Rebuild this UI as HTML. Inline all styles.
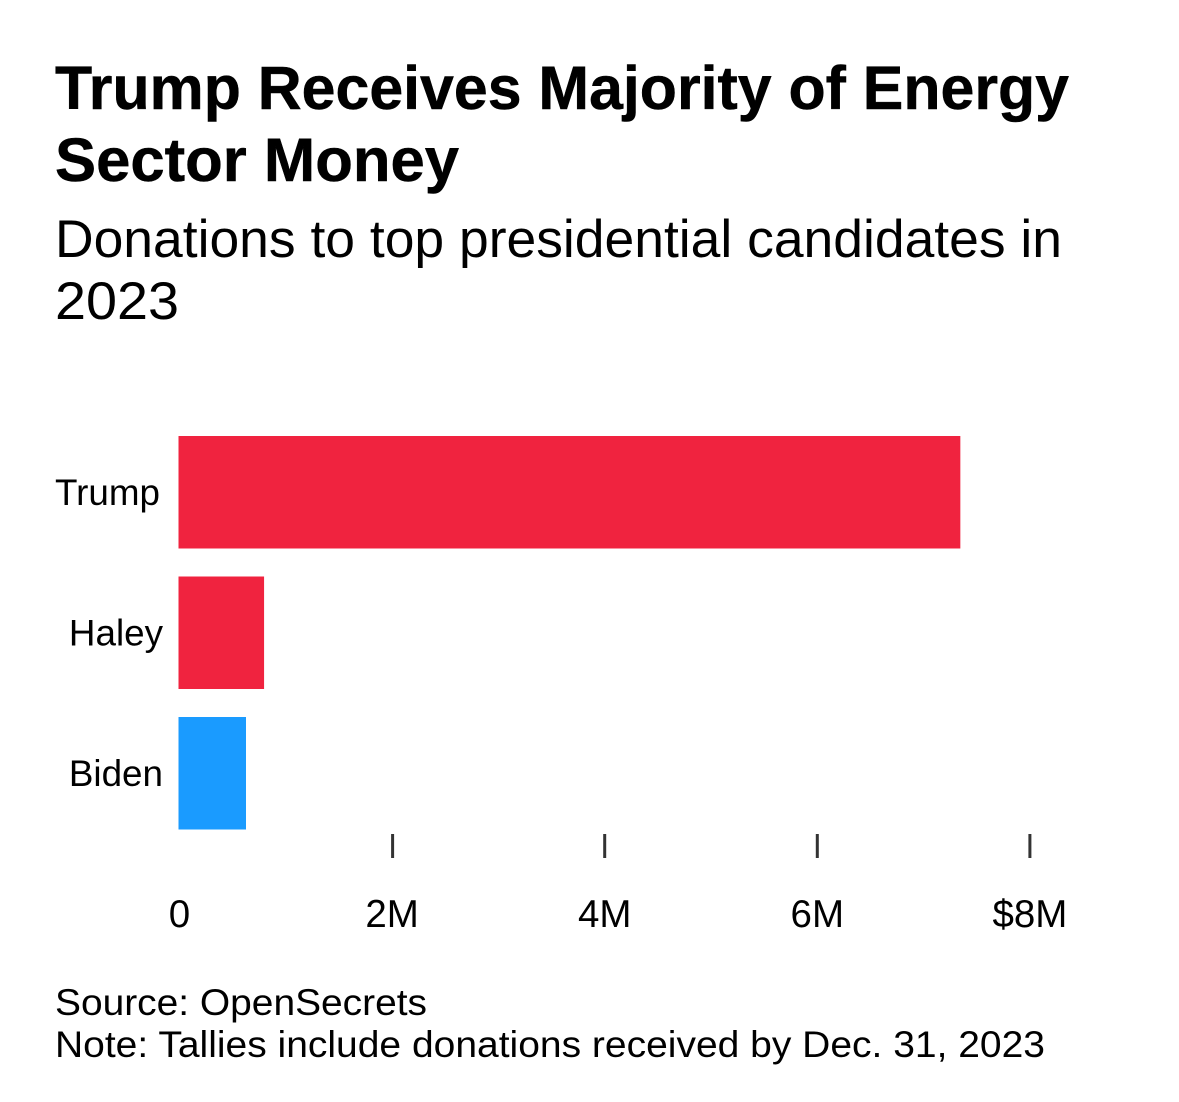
<!DOCTYPE html>
<html lang="en">
<head>
<meta charset="utf-8">
<title>Trump Receives Majority of Energy Sector Money</title>
<style>
  html, body { margin: 0; padding: 0; background: #fff; }
  svg { display: block; font-family: "Liberation Sans", Arial, sans-serif; fill: #000; }
</style>
</head>
<body>
<svg id="chart" xmlns="http://www.w3.org/2000/svg" width="1179" height="1102" viewBox="0 0 1179 1102">
  <rect x="0" y="0" width="1179" height="1102" fill="#ffffff"/>
  <text x="55" y="109" font-size="61" font-weight="700" stroke="#000" stroke-width="0.5" textLength="1014" lengthAdjust="spacingAndGlyphs">Trump Receives Majority of Energy</text>
  <text x="55" y="181" font-size="61" font-weight="700" stroke="#000" stroke-width="0.5" textLength="404" lengthAdjust="spacingAndGlyphs">Sector Money</text>
  <text x="55" y="257" font-size="53" textLength="1007" lengthAdjust="spacingAndGlyphs">Donations to top presidential candidates in</text>
  <text x="55" y="319" font-size="53" textLength="124" lengthAdjust="spacingAndGlyphs">2023</text>
  <g id="bars"></g>
  <g id="axis"></g>
  <text x="55" y="1015" font-size="37" textLength="372" lengthAdjust="spacingAndGlyphs">Source: OpenSecrets</text>
  <text x="55" y="1057" font-size="37" textLength="990" lengthAdjust="spacingAndGlyphs">Note: Tallies include donations received by Dec. 31, 2023</text>
</svg>
<script>
const categories = ["Trump", "Haley", "Biden"];
const donations = [7.355, 0.805, 0.635];
const barColors = ["#f0233f", "#f0233f", "#1a9bff"];
const tickValues = [0, 2, 4, 6, 8];
const tickLabels = ["0", "2M", "4M", "6M", "$8M"];

const NS = "http://www.w3.org/2000/svg";
const labelRight = { Trump: 160, Haley: 163, Biden: 163 };
const xScale = v => 178.5 + v * 106.3;
const yBand = i => 436 + i * 140.5;
const bandHeight = 112.5;

const barsG = document.getElementById("bars");
categories.forEach((name, i) => {
  const bar = document.createElementNS(NS, "rect");
  bar.setAttribute("x", xScale(0));
  bar.setAttribute("y", yBand(i));
  bar.setAttribute("width", xScale(donations[i]) - xScale(0));
  bar.setAttribute("height", bandHeight);
  bar.setAttribute("fill", barColors[i]);
  
  
  barsG.appendChild(bar);

  const label = document.createElementNS(NS, "text");
  label.setAttribute("x", labelRight[name] || 163);
  label.setAttribute("y", yBand(i) + bandHeight / 2 + 12.5);
  label.setAttribute("text-anchor", "end");
  label.setAttribute("font-size", "36.8");
  label.textContent = name;
  
  
  barsG.appendChild(label);
});

const axisG = document.getElementById("axis");
tickValues.forEach((v, i) => {
  if (v !== 0) {
    const tick = document.createElementNS(NS, "rect");
    tick.setAttribute("x", xScale(v) - 0.5 + 0.5 * (v === 2 ? 1 : 0));
    tick.setAttribute("y", 834);
    tick.setAttribute("width", 3);
    tick.setAttribute("height", 24);
    tick.setAttribute("fill", "#333333");
    
    
    axisG.appendChild(tick);
  }
  const t = document.createElementNS(NS, "text");
  t.setAttribute("x", xScale(v) + 1);
  t.setAttribute("y", 927);
  t.setAttribute("text-anchor", "middle");
  t.setAttribute("font-size", "38.5");
  t.textContent = tickLabels[i];
  
  
  axisG.appendChild(t);
});
</script>
</body>
</html>
